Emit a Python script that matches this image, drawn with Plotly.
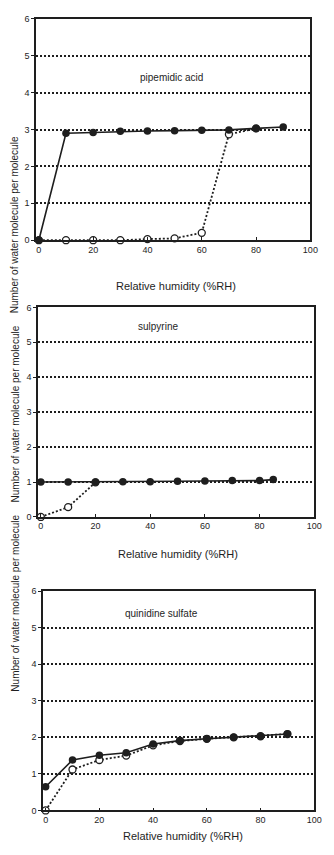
import plotly.graph_objects as go

W, H = 334, 855

# Relative humidity steps (%RH) and water uptake (molecules of water per molecule)
rh_pip_sorp = [0, 10, 20, 30, 40, 50, 60, 70, 80, 90]
pip_sorp = [0.0, 2.90, 2.92, 2.95, 2.96, 2.97, 2.98, 2.99, 3.03, 3.07]
rh_pip_open = [0, 10, 20, 30, 40, 50, 60, 70, 80]
pip_open = [0.0, 0.0, 0.0, 0.0, 0.03, 0.05, 0.2, 2.87, 3.03]

rh_sul_sorp = [0, 10, 20, 30, 40, 50, 60, 70, 80, 85]
sul_sorp = [1.0, 1.0, 1.0, 1.01, 1.01, 1.02, 1.03, 1.04, 1.04, 1.07]
rh_sul_open = [0, 10, 20]
sul_open = [0.0, 0.28, 0.99]

rh_qui_sorp = [0, 10, 20, 30, 40, 50, 60, 70, 80, 90]
qui_sorp = [0.65, 1.38, 1.51, 1.58, 1.82, 1.91, 1.96, 2.0, 2.03, 2.09]
rh_qui_open = [0, 10, 20, 30, 40, 50, 60, 70, 80, 90]
qui_open = [0.0, 1.12, 1.38, 1.50, 1.78, 1.90, 1.96, 2.0, 2.03, 2.09]

compounds = ["pipemidic acid", "sulpyrine", "quinidine sulfate"]
label_pos = [(49, 4.4), (43, 5.46), (43, 5.4)]
x_ticks = [0, 20, 40, 60, 80, 100]
y_ticks = [0, 1, 2, 3, 4, 5, 6]

INK = "#1e1e1e"
FONT = "Liberation Sans, Arial, sans-serif"


def px_x(p):
    return p / W


def px_y(p):
    return 1 - p / H


# panel boxes in pixels: (left, right, top, bottom)
boxes = [(37, 318, 14, 238), (39, 322, 306, 518), (44, 322, 593, 815)]
ytitle_y = [131, 414, 697]
xtitle = [(180, 276), (182, 555), (188, 849)]

panels = [
    (rh_pip_sorp, pip_sorp, rh_pip_open, pip_open),
    (rh_sul_sorp, sul_sorp, rh_sul_open, sul_open),
    (rh_qui_sorp, qui_sorp, rh_qui_open, qui_open),
]

fig = go.Figure()
annotations = []
layout_axes = {}

for i, ((xs, ys, xo, yo), name, (lx, ly)) in enumerate(zip(panels, compounds, label_pos)):
    n = "" if i == 0 else str(i + 1)
    xa, ya = "x" + n, "y" + n
    # desorption / open-circle series (dotted)
    fig.add_trace(go.Scatter(
        x=xo, y=yo, xaxis=xa, yaxis=ya, mode="lines+markers",
        line=dict(color=INK, width=1.8, dash="2px,2px"),
        marker=dict(symbol="circle", size=7, color="white",
                    line=dict(color=INK, width=1.3)),
        cliponaxis=False, showlegend=False))
    # sorption / filled series (solid)
    fig.add_trace(go.Scatter(
        x=xs, y=ys, xaxis=xa, yaxis=ya, mode="lines+markers",
        line=dict(color=INK, width=1.6),
        marker=dict(symbol="circle", size=7.5, color=INK),
        cliponaxis=False, showlegend=False))

    l, r, t, b = boxes[i]
    layout_axes["xaxis" + n] = dict(
        domain=[px_x(l), px_x(r)], anchor=ya, range=[-1, 100],
        tickvals=x_ticks, ticks="inside", ticklen=3, tickcolor=INK,
        showline=True, linecolor=INK, linewidth=1.5, mirror=True,
        showgrid=False, zeroline=False,
        tickfont=dict(family=FONT, size=9, color=INK))
    layout_axes["yaxis" + n] = dict(
        domain=[px_y(b), px_y(t)], anchor=xa, range=[0, 6],
        tickvals=y_ticks, ticks="outside", ticklen=3, tickcolor=INK,
        showline=True, linecolor=INK, linewidth=1.5, mirror=True,
        showgrid=True, gridcolor=INK, gridwidth=1.6, griddash="2px,2px",
        zeroline=False,
        tickfont=dict(family=FONT, size=9, color=INK))

    annotations.append(dict(
        x=lx, y=ly, xref=xa, yref=ya, text=name, showarrow=False,
        font=dict(family=FONT, size=10, color=INK)))
    annotations.append(dict(
        x=px_x(8), y=px_y(ytitle_y[i]), xref="paper", yref="paper",
        text="Number of water molecule per molecule", textangle=-90,
        showarrow=False, font=dict(family=FONT, size=10, color=INK)))
    annotations.append(dict(
        x=px_x(xtitle[i][0]), y=px_y(xtitle[i][1]), xref="paper", yref="paper",
        text="Relative humidity (%RH)", showarrow=False,
        font=dict(family=FONT, size=11, color=INK)))

fig.update_layout(
    width=W, height=H, margin=dict(l=0, r=0, t=0, b=0),
    paper_bgcolor="white", plot_bgcolor="white",
    annotations=annotations, **layout_axes)

fig.write_html("out.html")
